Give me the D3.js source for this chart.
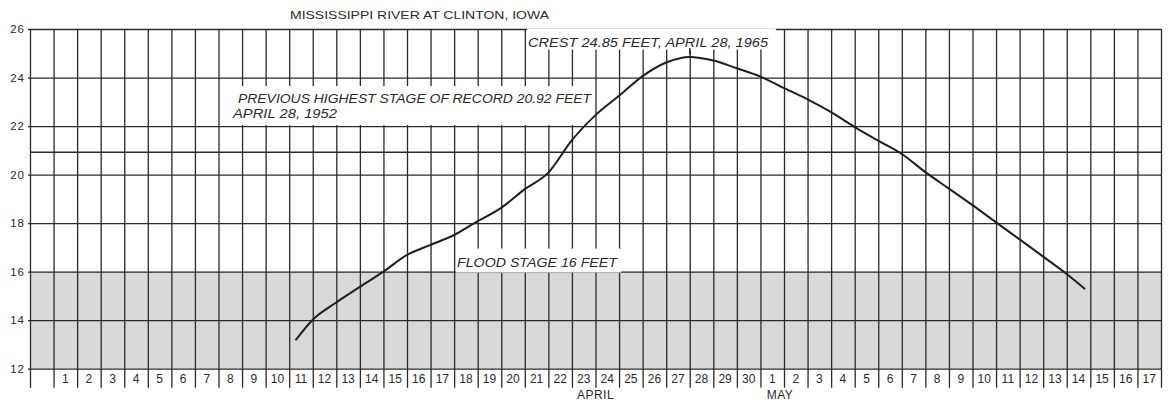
<!DOCTYPE html>
<html>
<head>
<meta charset="utf-8">
<script src="https://cdn.jsdelivr.net/npm/d3@7"></script>
<style>
  html, body { margin: 0; padding: 0; background: #fff; }
  svg { display: block; }
  text { font-family: "Liberation Sans", Arial, sans-serif; fill: #2a2a2a; }
</style>
</head>
<body>
<svg id="chart" width="1168" height="402"></svg>
<script>
// Stage hydrograph, Mississippi River at Clinton, Iowa — spring flood of 1965.
const title = "MISSISSIPPI RIVER AT CLINTON, IOWA";

// Observed stage (feet) at the listed times (UTC used as plain calendar time)
const readingTimes = [
  "1965-04-11T07:00", "1965-04-12T00:00", "1965-04-13T00:00", "1965-04-14T00:00",
  "1965-04-15T00:00", "1965-04-16T00:00", "1965-04-17T00:00", "1965-04-18T00:00",
  "1965-04-19T00:00", "1965-04-20T00:00", "1965-04-21T00:00", "1965-04-22T00:00",
  "1965-04-23T00:00", "1965-04-24T00:00", "1965-04-25T00:00", "1965-04-26T00:00",
  "1965-04-27T00:00", "1965-04-28T00:00", "1965-04-29T00:00", "1965-04-30T00:00",
  "1965-05-01T00:00", "1965-05-02T00:00", "1965-05-03T00:00", "1965-05-04T00:00",
  "1965-05-05T00:00", "1965-05-06T00:00", "1965-05-07T00:00", "1965-05-08T00:00",
  "1965-05-09T00:00", "1965-05-10T00:00", "1965-05-11T00:00", "1965-05-12T00:00",
  "1965-05-13T00:00", "1965-05-14T00:00", "1965-05-14T18:00"
];
const stageFeet = [
  13.2, 14.02, 14.73, 15.37,
  16.0, 16.69, 17.1, 17.51,
  18.08, 18.63, 19.4, 20.08,
  21.42, 22.45, 23.25, 24.06,
  24.62, 24.85, 24.7, 24.38,
  24.04, 23.56, 23.1, 22.57,
  21.96, 21.4, 20.85, 20.1,
  19.42, 18.74, 18.03, 17.33,
  16.62, 15.9, 15.3
];

// Reference levels
const floodStage = 16;
const previousRecord = 20.92;
const crestStage = 24.85;
const crestTime = "1965-04-28T00:00";

// Axis extents and tick labels
const timeDomain = ["1965-03-31T00:00", "1965-05-18T00:00"];
const stageTicks = [12, 14, 16, 18, 20, 22, 24, 26];
const months = [
  { name: "APRIL", at: "1965-04-24T00:00" },
  { name: "MAY", at: "1965-05-01T20:00" }
];

const parse = s => new Date(s + "Z");
const data = readingTimes.map((t, i) => ({ t: parse(t), v: stageFeet[i] }));

const svg = d3.select("#chart");
const plotLeft = 30, plotRight = 1161, plotTop = 29, plotBottom = 368.7;
const ink = "#2a2a2a";

const x = d3.scaleUtc().domain(timeDomain.map(parse)).range([plotLeft, plotRight]);
const y = d3.scaleLinear().domain([12, 26]).range([plotBottom, plotTop]);

// Shaded band below flood stage
svg.append("rect")
  .attr("x", plotLeft).attr("y", y(floodStage))
  .attr("width", plotRight - plotLeft).attr("height", y(12) - y(floodStage))
  .attr("fill", "#d9d9d9");

// Day grid: vertical rules continue below the baseline to box the day numbers
const days = d3.utcDay.range(x.domain()[0], d3.utcDay.offset(x.domain()[1], 1));
const gridX = svg.append("g")
  .attr("transform", `translate(0,${plotBottom + 19})`)
  .call(d3.axisBottom(x).tickValues(days).tickSize(-(plotBottom + 19 - plotTop)).tickFormat(""));
gridX.select(".domain").remove();
gridX.selectAll("line").attr("stroke", ink).attr("stroke-width", 1.3);

// Stage grid with left labels
const gridY = svg.append("g")
  .attr("transform", `translate(${plotRight},0)`)
  .call(d3.axisLeft(y).tickValues(stageTicks).tickSize(plotRight - plotLeft + 2).tickPadding(3));
gridY.select(".domain").remove();
gridY.selectAll("line").attr("stroke", ink).attr("stroke-width", 1.3);
gridY.selectAll("text")
  .style("font-size", "11.5px").style("letter-spacing", "1px").attr("fill", ink);

// Previous record level
svg.append("line")
  .attr("x1", plotLeft).attr("x2", plotRight)
  .attr("y1", y(previousRecord)).attr("y2", y(previousRecord))
  .attr("stroke", ink).attr("stroke-width", 1.3);

// Day numbers, centred in each day column
const labelDays = days.slice(1, -1);
svg.append("g").selectAll("text")
  .data(labelDays)
  .join("text")
  .attr("x", d => x(d3.utcHour.offset(d, 12)))
  .attr("y", plotBottom + 10)
  .attr("dy", "0.35em")
  .attr("text-anchor", "middle")
  .style("font-size", "12px")
  .text(d3.utcFormat("%-d"));

// Month names
svg.append("g").selectAll("text")
  .data(months)
  .join("text")
  .attr("x", d => x(parse(d.at)))
  .attr("y", 395)
  .attr("dy", "0.35em")
  .attr("text-anchor", "middle")
  .style("font-size", "12px")
  .style("letter-spacing", "0.5px")
  .text(d => d.name);

// Title
svg.append("text")
  .attr("x", 290).attr("y", 15).attr("dy", "0.35em")
  .attr("textLength", 259).attr("lengthAdjust", "spacingAndGlyphs")
  .style("font-size", "11px")
  .text(title);

// Annotation boxes: white ground so the lettering sits clear of the grid
function note(lines, opts) {
  const g = svg.append("g");
  const box = g.append("rect").attr("fill", "#fff");
  const texts = lines.map(l => g.append("text")
    .attr("x", l.x).attr("y", l.y).attr("dy", "0.35em")
    .attr("textLength", l.w).attr("lengthAdjust", "spacingAndGlyphs")
    .style("font-size", "13px").style("font-style", "italic")
    .text(l.text));
  const bbs = texts.map(t => t.node().getBBox());
  const x0 = d3.min(bbs, b => b.x), x1 = d3.max(bbs, b => b.x + b.width);
  const y0 = d3.min(bbs, b => b.y), y1 = d3.max(bbs, b => b.y + b.height);
  box.attr("x", x0 - opts.l).attr("y", y0 - opts.t)
    .attr("width", x1 - x0 + opts.l + opts.r)
    .attr("height", y1 - y0 + opts.t + opts.b);
  return g;
}

note([{ text: `CREST ${crestStage} FEET, APRIL 28, 1965`, x: 528, y: 42, w: 240 }],
  { l: 1, r: 7, t: 6, b: 0 });
note([
  { text: `PREVIOUS HIGHEST STAGE OF RECORD ${previousRecord} FEET`, x: 238, y: 98.5, w: 353 },
  { text: "APRIL 28, 1952", x: 233, y: 113.5, w: 104 }
], { l: 10, r: 1, t: 5, b: 4 });
note([{ text: `FLOOD STAGE ${floodStage} FEET`, x: 457, y: 262, w: 160 }],
  { l: 1, r: 3, t: 6, b: 3 });

// Crest pointer
svg.append("line")
  .attr("x1", x(parse(crestTime))).attr("x2", x(parse(crestTime)))
  .attr("y1", 48).attr("y2", y(crestStage) - 2)
  .attr("stroke", ink).attr("stroke-width", 1.3);

// Hydrograph
svg.append("path")
  .datum(data)
  .attr("fill", "none")
  .attr("stroke", "#1e1e1e")
  .attr("stroke-width", 2)
  .attr("stroke-linecap", "round")
  .attr("d", d3.line().x(d => x(d.t)).y(d => y(d.v)).curve(d3.curveMonotoneX));
</script>
</body>
</html>
